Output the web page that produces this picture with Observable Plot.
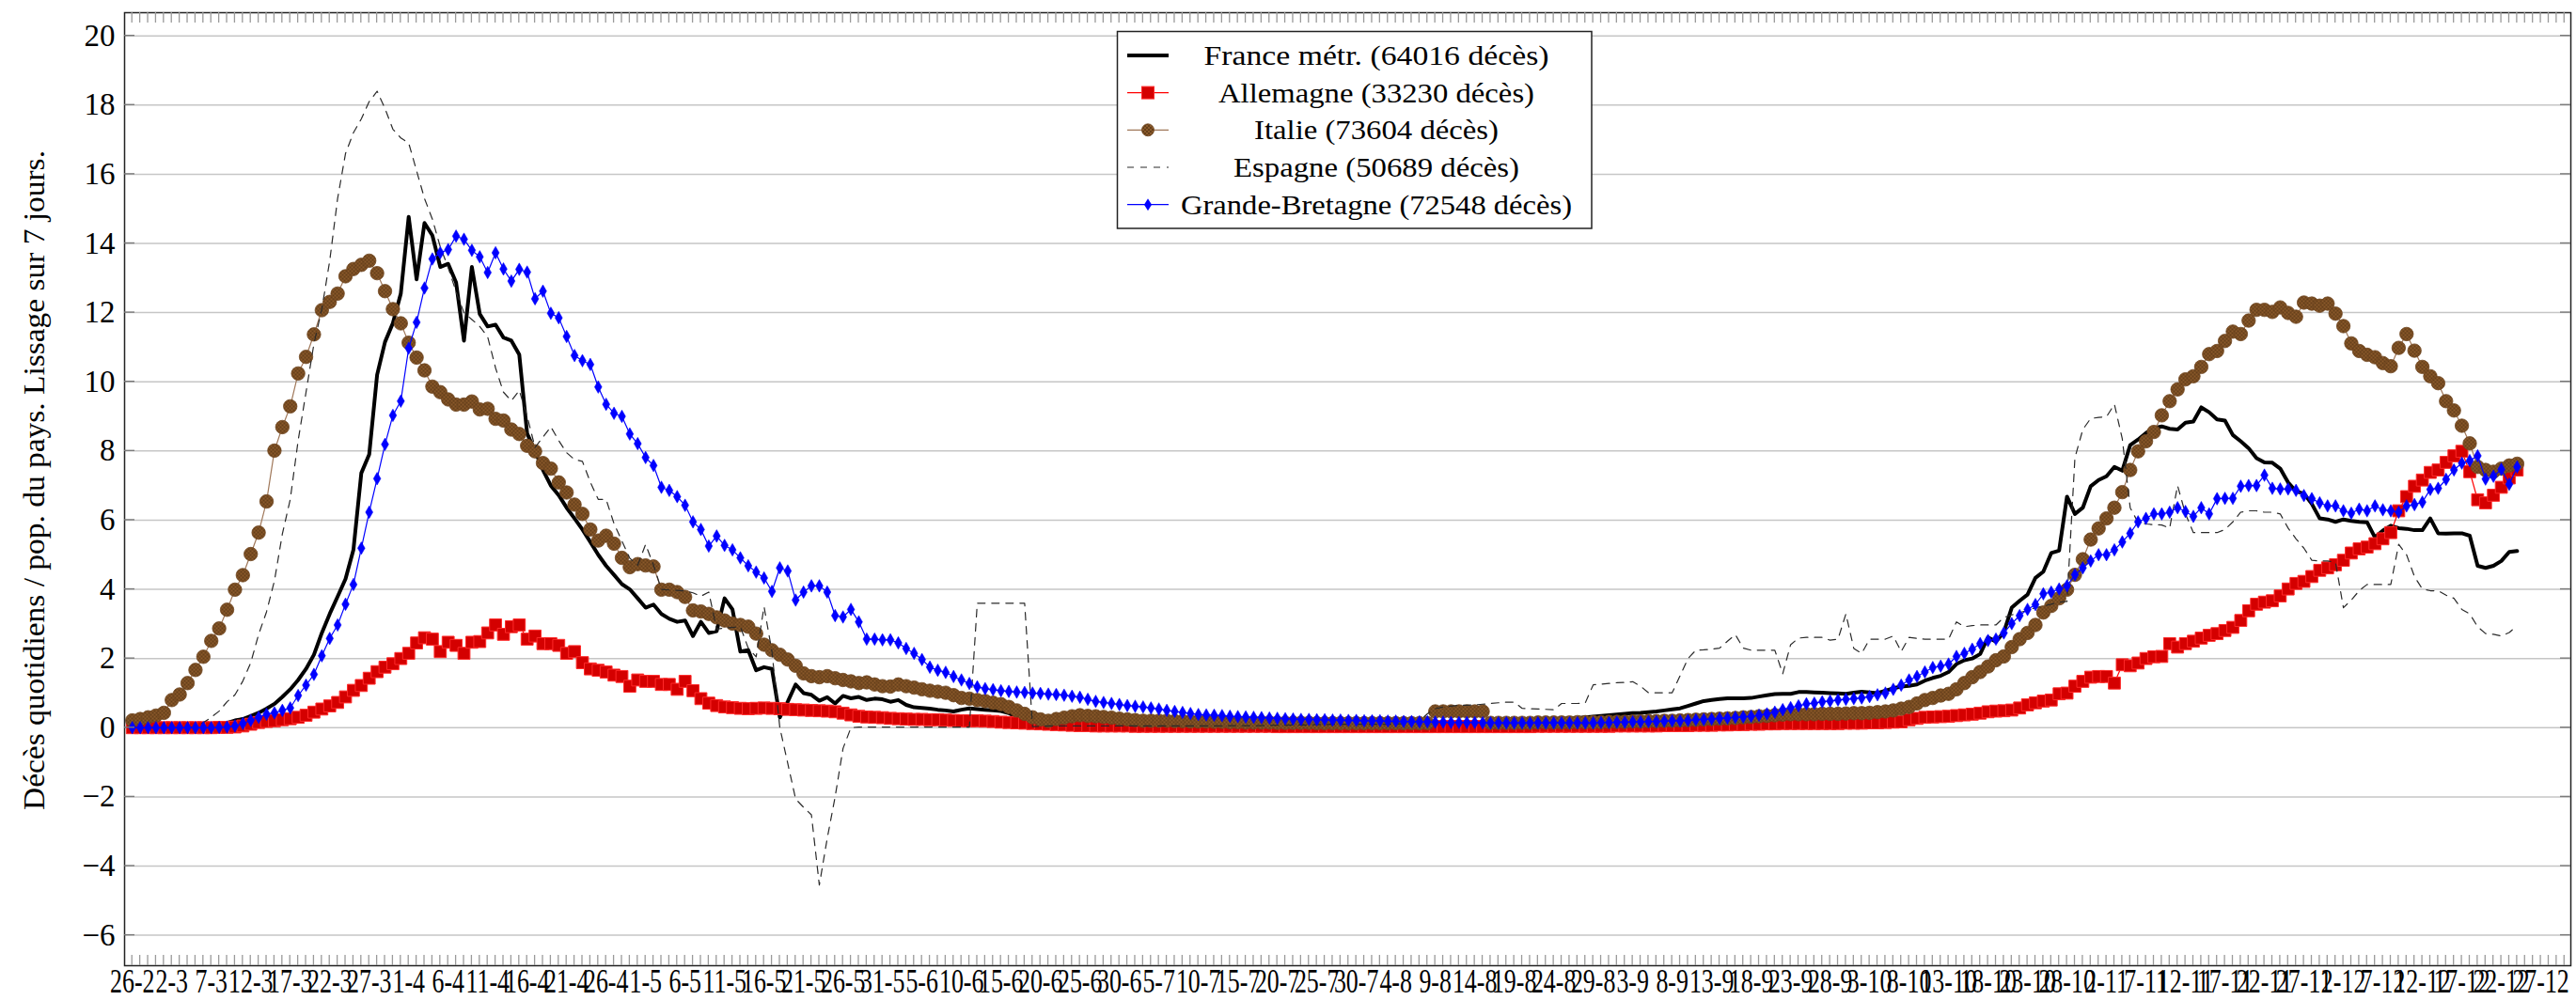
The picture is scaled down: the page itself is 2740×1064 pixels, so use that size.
<!DOCTYPE html>
<html>
<head>
<meta charset="utf-8">
<script src="https://cdn.jsdelivr.net/npm/d3@7"></script>
<script src="https://cdn.jsdelivr.net/npm/@observablehq/plot@0.6"></script>
<style>
html, body { margin: 0; padding: 0; background: #fff; overflow: hidden; }
#chart { position: relative; width: 2740px; height: 1064px; }
</style>
</head>
<body>
<div id="chart"></div>
<script>
// ---- DATA (one value per day, from 26-2-2020) ----
const seriesNames = ["France métr.", "Allemagne", "Italie", "Espagne", "Grande-Bretagne"];
const deathTotals = [64016, 33230, 73604, 50689, 72548];

const france = [
0,0,0,0.01,0.01,0.01,0.02,0.02,0.03,0.05,
0.07,0.09,0.14,0.21,0.25,0.34,0.43,0.55,0.69,0.89,
1.11,1.38,1.7,2.11,2.74,3.29,3.79,4.3,5.14,7.36,
7.9,10.2,11.15,11.7,12.55,14.77,12.96,14.59,14.23,13.32,
13.41,12.87,11.19,13.32,11.96,11.6,11.65,11.28,11.19,10.79,
8.5,8.0,7.45,7.0,6.72,6.36,6.05,5.73,5.37,5.0,
4.68,4.42,4.15,4.0,3.74,3.47,3.56,3.29,3.15,3.06,
3.1,2.65,3.06,2.74,2.79,3.74,3.42,2.2,2.24,1.66,
1.75,1.7,0.3,0.75,1.25,1.0,0.95,0.78,0.88,0.7,
0.92,0.85,0.89,0.8,0.84,0.82,0.75,0.8,0.66,0.59,
0.57,0.55,0.52,0.5,0.47,0.52,0.56,0.54,0.52,0.5,
0.48,0.42,0.3,0.2,0.15,0.13,0.12,0.12,0.12,0.12,
0.12,0.11,0.11,0.12,0.11,0.1,0.1,0.11,0.1,0.1,
0.1,0.1,0.1,0.11,0.1,0.1,0.1,0.1,0.11,0.1,
0.1,0.1,0.11,0.11,0.1,0.1,0.1,0.11,0.11,0.1,
0.11,0.11,0.12,0.11,0.11,0.12,0.12,0.12,0.12,0.13,
0.13,0.13,0.13,0.14,0.14,0.14,0.14,0.14,0.15,0.15,
0.15,0.15,0.15,0.15,0.15,0.15,0.15,0.17,0.19,0.21,
0.23,0.25,0.27,0.28,0.3,0.32,0.34,0.36,0.38,0.4,
0.42,0.43,0.45,0.47,0.5,0.53,0.56,0.63,0.7,0.77,
0.8,0.83,0.85,0.85,0.85,0.86,0.9,0.94,0.97,0.98,
0.98,1.03,1.03,1.02,1.01,1.0,0.99,0.98,1.01,1.04,
1.02,1.0,1.07,1.14,1.19,1.21,1.25,1.36,1.44,1.5,
1.61,1.84,1.95,2.0,2.13,2.61,2.49,2.76,3.47,3.67,
3.85,4.33,4.51,5.05,5.12,6.68,6.18,6.36,6.98,7.16,
7.27,7.54,7.43,8.17,8.33,8.52,8.66,8.71,8.64,8.62,
8.82,8.85,9.26,9.12,8.91,8.88,8.46,8.28,8.08,7.79,
7.67,7.66,7.49,7.09,6.83,6.77,6.47,6.05,6.02,5.95,
6.02,5.98,5.95,5.94,5.5,5.7,5.84,5.77,5.75,5.71,
5.71,6.05,5.62,5.61,5.62,5.62,5.55,4.68,4.62,4.68,
4.82,5.08,5.11];

const germany = [
0,0,0,0,0,0,0,0,0,0,
0,0.01,0.01,0.02,0.05,0.1,0.15,0.18,0.2,0.23,
0.26,0.3,0.36,0.45,0.54,0.63,0.73,0.89,1.08,1.22,
1.43,1.62,1.75,1.85,2.0,2.15,2.45,2.6,2.56,2.2,
2.47,2.38,2.15,2.47,2.49,2.74,2.97,2.7,2.92,2.97,
2.56,2.65,2.43,2.43,2.38,2.15,2.2,1.88,1.7,1.66,
1.61,1.52,1.48,1.2,1.38,1.34,1.34,1.25,1.25,1.11,
1.34,1.07,0.84,0.71,0.64,0.6,0.58,0.56,0.55,0.56,
0.57,0.56,0.55,0.53,0.52,0.51,0.5,0.49,0.48,0.46,
0.42,0.37,0.33,0.31,0.3,0.29,0.27,0.26,0.25,0.24,
0.24,0.23,0.23,0.22,0.21,0.2,0.2,0.2,0.19,0.18,
0.16,0.15,0.14,0.13,0.12,0.11,0.1,0.09,0.08,0.07,
0.06,0.06,0.05,0.05,0.05,0.05,0.05,0.04,0.04,0.04,
0.04,0.04,0.04,0.04,0.04,0.04,0.04,0.04,0.04,0.04,
0.04,0.04,0.04,0.04,0.04,0.03,0.03,0.03,0.03,0.03,
0.03,0.03,0.03,0.03,0.03,0.03,0.03,0.03,0.03,0.03,
0.03,0.03,0.03,0.03,0.03,0.03,0.03,0.03,0.03,0.03,
0.03,0.03,0.03,0.03,0.03,0.03,0.03,0.03,0.04,0.04,
0.04,0.04,0.04,0.04,0.04,0.04,0.04,0.04,0.05,0.05,
0.05,0.05,0.05,0.05,0.06,0.06,0.06,0.06,0.07,0.07,
0.07,0.08,0.08,0.09,0.09,0.1,0.1,0.11,0.11,0.12,
0.12,0.12,0.12,0.12,0.12,0.12,0.12,0.13,0.13,0.13,
0.14,0.14,0.15,0.16,0.17,0.23,0.27,0.3,0.31,0.32,
0.33,0.35,0.37,0.39,0.42,0.46,0.48,0.49,0.51,0.57,
0.66,0.72,0.77,0.8,0.98,1.0,1.2,1.34,1.46,1.48,
1.48,1.29,1.82,1.79,1.87,2.0,2.05,2.06,2.43,2.33,
2.43,2.5,2.59,2.67,2.72,2.81,2.9,3.1,3.38,3.57,
3.63,3.67,3.81,4.01,4.17,4.23,4.37,4.55,4.62,4.71,
4.84,5.05,5.17,5.22,5.32,5.46,5.64,6.27,6.68,6.98,
7.16,7.38,7.45,7.67,7.86,7.99,7.4,6.59,6.5,6.72,
6.95,7.22,7.45];

const italy = [
0.21,0.25,0.3,0.35,0.43,0.8,0.96,1.29,1.67,2.05,
2.51,2.87,3.41,3.99,4.41,5.02,5.64,6.54,8.01,8.69,
9.29,10.24,10.72,11.37,12.07,12.31,12.55,13.05,13.26,13.38,
13.5,13.14,12.62,12.1,11.69,11.13,10.7,10.33,9.86,9.7,
9.49,9.34,9.34,9.43,9.2,9.22,8.93,8.88,8.62,8.49,
8.15,7.99,7.65,7.49,7.09,6.8,6.45,6.18,5.73,5.41,
5.55,5.32,4.91,4.64,4.73,4.69,4.66,3.99,3.99,3.92,
3.78,3.39,3.36,3.29,3.19,3.1,3.01,2.97,2.92,2.72,
2.4,2.24,2.11,1.97,1.79,1.57,1.49,1.46,1.49,1.43,
1.38,1.34,1.29,1.31,1.25,1.2,1.19,1.25,1.2,1.16,
1.11,1.07,1.04,1.01,0.94,0.86,0.84,0.8,0.77,0.72,
0.68,0.6,0.5,0.4,0.3,0.24,0.2,0.25,0.29,0.33,
0.36,0.34,0.33,0.31,0.29,0.26,0.24,0.22,0.2,0.2,
0.2,0.2,0.19,0.19,0.18,0.18,0.18,0.17,0.17,0.16,
0.16,0.15,0.15,0.15,0.15,0.14,0.14,0.14,0.14,0.14,
0.13,0.13,0.13,0.13,0.13,0.13,0.13,0.13,0.13,0.13,
0.13,0.13,0.13,0.13,0.13,0.47,0.47,0.47,0.47,0.47,
0.47,0.47,0.14,0.14,0.14,0.14,0.14,0.14,0.15,0.15,
0.15,0.15,0.15,0.16,0.16,0.16,0.16,0.17,0.17,0.17,
0.18,0.18,0.19,0.19,0.2,0.2,0.21,0.22,0.23,0.24,
0.25,0.26,0.27,0.28,0.3,0.31,0.33,0.34,0.36,0.38,
0.39,0.39,0.39,0.39,0.4,0.4,0.4,0.41,0.42,0.42,
0.43,0.45,0.47,0.5,0.55,0.6,0.7,0.8,0.86,0.93,
0.98,1.11,1.29,1.46,1.61,1.77,1.95,2.06,2.33,2.56,
2.74,2.97,3.33,3.52,3.74,3.99,4.42,4.87,5.44,5.76,
6.05,6.36,6.81,7.45,7.99,8.28,8.55,9.03,9.44,9.78,
10.07,10.16,10.43,10.8,10.89,11.18,11.45,11.38,11.77,12.08,
12.08,12.02,12.15,11.99,11.88,12.29,12.26,12.2,12.26,11.97,
11.61,11.11,10.89,10.78,10.71,10.54,10.45,10.98,11.38,10.9,
10.43,10.16,9.96,9.44,9.17,8.73,8.22,7.54,7.45,7.4,
7.49,7.58,7.63];

const spain = [
0,0,0,0,0,0,0,0,0.02,0.15,
0.3,0.48,0.75,0.95,1.35,1.88,2.7,3.35,4.25,5.6,
6.6,8.3,9.7,11.1,12.1,13.5,15.3,16.6,17.2,17.6,
18.1,18.4,17.9,17.3,17.05,16.9,16.1,15.3,14.7,13.9,
13.3,12.6,12.0,11.8,11.6,11.3,10.4,9.7,9.45,9.75,
9.0,8.1,8.4,8.7,8.3,7.95,7.75,7.7,7.1,6.6,
6.6,5.9,5.4,4.9,4.7,5.3,4.7,4.0,3.98,3.97,
3.95,3.9,3.8,3.92,2.85,2.88,2.9,2.92,2.3,2.05,
3.5,2.2,0.0,-1.03,-2.06,-2.3,-2.52,-4.55,-3.2,-2.0,
-0.6,0.0,0.02,0.02,0.02,0.02,0.02,0.02,0.02,0.02,
0.02,0.02,0.02,0.02,0.02,0.02,0.02,3.6,3.6,3.6,
3.6,3.6,3.6,3.6,0.03,0.04,0.05,0.05,0.05,0.05,
0.05,0.05,0.05,0.05,0.05,0.05,0.05,0.05,0.05,0.05,
0.05,0.05,0.05,0.05,0.05,0.05,0.05,0.05,0.05,0.06,
0.06,0.06,0.06,0.06,0.07,0.07,0.07,0.08,0.08,0.08,
0.09,0.09,0.1,0.1,0.1,0.1,0.1,0.1,0.1,0.1,
0.1,0.12,0.15,0.2,0.4,0.55,0.6,0.62,0.65,0.65,
0.66,0.68,0.7,0.72,0.74,0.74,0.56,0.55,0.54,0.53,
0.52,0.7,0.7,0.7,0.72,1.24,1.26,1.28,1.3,1.31,
1.33,1.2,1.01,1.01,1.01,1.01,1.5,2.0,2.24,2.25,
2.27,2.3,2.5,2.69,2.3,2.24,2.24,2.24,2.24,1.56,
2.4,2.59,2.61,2.61,2.61,2.53,2.56,3.29,2.29,2.15,
2.56,2.56,2.56,2.65,2.2,2.61,2.58,2.56,2.56,2.56,
2.56,3.06,2.92,2.95,2.97,2.97,2.97,3.19,3.26,3.33,
3.39,3.47,3.51,3.57,3.63,3.65,7.8,8.62,8.94,8.97,
8.99,9.35,8.35,6.36,5.93,5.89,5.87,5.86,5.77,7.0,
6.18,5.64,5.64,5.64,5.64,5.73,5.95,6.23,6.27,6.27,
6.23,6.23,6.18,5.77,5.46,5.19,4.84,4.82,4.82,4.78,
3.47,3.69,3.96,4.14,4.14,4.14,4.14,5.3,5.0,4.37,
4.01,3.96,3.96,3.83,3.74,3.42,3.29,2.92,2.72,2.7,
2.65,2.75,2.95];

const uk = [
0,0,0,0,0,0,0,0,0,0,
0,0.01,0.02,0.05,0.12,0.21,0.3,0.39,0.43,0.5,
0.57,0.93,1.23,1.54,2.08,2.58,2.97,3.57,4.14,5.19,
6.23,7.2,8.19,9.03,9.44,10.97,11.72,12.71,13.55,13.73,
13.82,14.21,14.12,13.8,13.61,13.16,13.73,13.26,12.91,13.25,
13.17,12.4,12.62,11.98,11.85,11.31,10.76,10.61,10.5,9.85,
9.35,9.09,9.0,8.49,8.21,7.81,7.58,6.95,6.86,6.68,
6.43,5.95,5.73,5.25,5.54,5.27,5.14,4.91,4.68,4.5,
4.33,3.94,4.62,4.53,3.69,3.92,4.1,4.1,3.92,3.24,
3.2,3.42,3.06,2.56,2.56,2.54,2.54,2.45,2.29,2.15,
1.97,1.75,1.66,1.6,1.48,1.38,1.28,1.18,1.13,1.1,
1.07,1.05,1.03,1.02,1.0,0.99,0.97,0.96,0.94,0.91,
0.88,0.82,0.76,0.73,0.7,0.67,0.64,0.62,0.6,0.57,
0.54,0.5,0.47,0.44,0.41,0.38,0.37,0.36,0.35,0.33,
0.32,0.31,0.3,0.29,0.28,0.27,0.26,0.25,0.24,0.24,
0.23,0.23,0.22,0.22,0.21,0.21,0.2,0.2,0.2,0.19,
0.19,0.18,0.18,0.17,0.17,0.16,0.16,0.15,0.15,0.15,
0.15,0.14,0.14,0.14,0.14,0.14,0.14,0.14,0.14,0.14,
0.14,0.14,0.14,0.14,0.14,0.14,0.15,0.15,0.16,0.16,
0.17,0.17,0.18,0.18,0.19,0.2,0.2,0.21,0.23,0.24,
0.25,0.27,0.28,0.3,0.31,0.33,0.36,0.4,0.45,0.52,
0.58,0.63,0.69,0.71,0.75,0.77,0.8,0.82,0.84,0.86,
0.9,0.95,1.0,1.11,1.23,1.38,1.48,1.61,1.74,1.78,
1.84,2.06,2.15,2.27,2.43,2.52,2.56,2.74,3.01,3.24,
3.42,3.56,3.87,3.92,4.01,4.1,4.42,4.62,4.82,5.0,
5.0,5.14,5.37,5.62,5.95,6.05,6.18,6.18,6.23,6.36,
6.25,6.11,6.36,6.18,6.62,6.63,6.63,6.98,7.0,7.0,
7.3,6.92,6.9,6.9,6.86,6.71,6.62,6.5,6.41,6.41,
6.27,6.2,6.32,6.27,6.41,6.3,6.27,6.23,6.41,6.45,
6.52,6.89,6.92,7.18,7.45,7.65,7.72,7.86,7.19,7.27,
7.47,7.04,7.54];

const xTickLabels = ["26-2","2-3","7-3","12-3","17-3","22-3","27-3","1-4","6-4","11-4","16-4","21-4","26-4",
"1-5","6-5","11-5","16-5","21-5","26-5","31-5","5-6","10-6","15-6","20-6","25-6","30-6","5-7","10-7",
"15-7","20-7","25-7","30-7","4-8","9-8","14-8","19-8","24-8","29-8","3-9","8-9","13-9","18-9","23-9",
"28-9","3-10","8-10","13-10","18-10","23-10","28-10","2-11","7-11","12-11","17-11","22-11","27-11",
"2-12","7-12","12-12","17-12","22-12","27-12"];
const yTicks = [-6,-4,-2,0,2,4,6,8,10,12,14,16,18,20];
const yTitle = "Décès quotidiens / pop. du pays. Lissage sur 7 jours.";

// ---- BUILD ----
const tickStep = 5;
const xTickDays = xTickLabels.map((_, i) => i * tickStep);
const labelOf = new Map(xTickDays.map((d, i) => [d, xTickLabels[i]]));
const minorDays = d3.range(0, 309);
const toRows = arr => arr.map((v, day) => ({day, v}));
const FR = toRows(france), DE = toRows(germany), IT = toRows(italy), ES = toRows(spain), UK = toRows(uk);
const fmtY = d => d < 0 ? "\u2212" + (-d) : String(d);

const FONT = "'Liberation Serif', 'DejaVu Serif', serif";
const C = {
  fr: "#000000", deLine: "#ff0000", deFill: "#d40000", deStroke: "#ff2a2a",
  itLine: "#a0785a", itFill: "#8b5a2c", itStroke: "#6e4520",
  es: "#2a2a2a", uk: "#0000ff"
};

const plot = Plot.plot({
  width: 2740, height: 1064,
  marginLeft: 132, marginRight: 6, marginTop: 13, marginBottom: 37,
  style: {fontFamily: FONT, fontSize: "33px", background: "#fff", color: "#000"},
  x: {type: "linear", domain: [-0.98, 308.8]},
  y: {type: "linear", domain: [-6.88, 20.67]},
  marks: [
    Plot.gridY(yTicks, {stroke: "#c6c6c6", strokeOpacity: 1, strokeWidth: 1.5}),
    Plot.axisY(yTicks, {anchor: "left", tickSize: 0, tickPadding: 10, fontSize: 33, tickFormat: fmtY, label: null}),
    Plot.axisX(xTickDays, {anchor: "bottom", tickSize: 0, tickPadding: 3.5, fontSize: 35, tickFormat: d => labelOf.get(d), label: null}),
    Plot.line(FR, {x: "day", y: "v", stroke: C.fr, strokeWidth: 4}),
    Plot.line(DE, {x: "day", y: "v", stroke: C.deLine, strokeWidth: 1.2}),
    Plot.dot(DE, {x: "day", y: "v", symbol: "square", r: 7.2, fill: C.deFill, stroke: C.deStroke, strokeWidth: 1}),
    Plot.line(IT, {x: "day", y: "v", stroke: C.itLine, strokeWidth: 1.2}),
    Plot.dot(IT, {x: "day", y: "v", symbol: "circle", r: 7.2, fill: C.itFill, stroke: C.itStroke, strokeWidth: 0.8}),
    Plot.line(ES, {x: "day", y: "v", stroke: C.es, strokeWidth: 1.2, strokeDasharray: "8,7"}),
    Plot.line(UK, {x: "day", y: "v", stroke: C.uk, strokeWidth: 1.2}),
    Plot.dot(UK, {x: "day", y: "v", symbol: "diamond", r: 4.1, fill: C.uk, stroke: C.uk, strokeWidth: 0.5}),
    Plot.frame({stroke: "#222", strokeWidth: 1.5})
  ]
});
document.getElementById("chart").appendChild(plot);

// ---- POST: hatch pattern, ticks, condensed labels, title, legend ----
const svg = d3.select(plot);
const defs = svg.insert("defs", ":first-child");
const pat = defs.append("pattern").attr("id", "xhatch").attr("patternUnits", "userSpaceOnUse")
  .attr("width", 4).attr("height", 4);
pat.append("rect").attr("width", 4).attr("height", 4).attr("fill", "#8b5a2b");
pat.append("path").attr("d", "M0,0L4,4M4,0L0,4").attr("stroke", "#5a3815").attr("stroke-width", 0.8);
svg.selectAll('g[fill="' + C.itFill + '"]').attr("fill", "url(#xhatch)");

const xs = plot.scale("x"), ys = plot.scale("y");
const [yBot, yTop] = [ys.apply(-6.88), ys.apply(20.67)];
const [xL, xR] = [xs.apply(-0.98), xs.apply(308.8)];
const deco = svg.append("g").attr("stroke", "#9a9a9a").attr("stroke-width", 1.3);
minorDays.forEach(d => {
  const x = xs.apply(d);
  deco.append("line").attr("x1", x).attr("x2", x).attr("y1", yBot).attr("y2", yBot - 11);
  deco.append("line").attr("x1", x).attr("x2", x).attr("y1", yTop).attr("y2", yTop + 11);
});
const deco2 = svg.append("g").attr("stroke", "#7a7a7a").attr("stroke-width", 1.4);
yTicks.forEach(v => {
  const y = ys.apply(v);
  deco2.append("line").attr("x1", xL).attr("x2", xL + 11).attr("y1", y).attr("y2", y);
  deco2.append("line").attr("x1", xR - 11).attr("x2", xR).attr("y1", y).attr("y2", y);
});

function axisTexts(prefix) {
  return svg.selectAll("g").filter(function () {
    const a = this.getAttribute("aria-label") || ""; return a.indexOf(prefix) === 0;
  }).selectAll("text");
}
axisTexts("y-axis").each(function () {
  this.setAttribute("font-size", "33");
  this.style.fontSize = "33px";
  this.style.fontFamily = FONT;
});
axisTexts("x-axis").each(function () {
  this.setAttribute("font-size", "35");
  this.style.fontSize = "35px";
  this.style.fontFamily = FONT;
  const L = this.getComputedTextLength();
  this.setAttribute("textLength", (L * 0.74).toFixed(1));
  this.setAttribute("lengthAdjust", "spacingAndGlyphs");
});

// y title
svg.append("text").attr("transform", "translate(47,511) rotate(-90)")
  .attr("text-anchor", "middle").style("font-family", FONT).style("font-size", "31px")
  .attr("textLength", 702).attr("lengthAdjust", "spacingAndGlyphs").attr("fill", "#000")
  .text(yTitle);

// legend
const lg = svg.append("g");
lg.append("rect").attr("x", 1188.5).attr("y", 33.5).attr("width", 504.5).attr("height", 209.5)
  .attr("fill", "#fff").attr("stroke", "#222").attr("stroke-width", 1.5);
const legendWidths = [367, 336, 260, 304, 416];
const sx1 = 1199, sx2 = 1243, sxm = 1221;
seriesNames.forEach((n, i) => {
  const y = 58.9 + i * 39.7;
  const g = lg.append("g");
  if (i === 0) g.append("line").attr("x1", sx1).attr("x2", sx2).attr("y1", y).attr("y2", y).attr("stroke", C.fr).attr("stroke-width", 4);
  if (i === 1) {
    g.append("line").attr("x1", sx1).attr("x2", sx2).attr("y1", y).attr("y2", y).attr("stroke", C.deLine).attr("stroke-width", 1.2);
    g.append("rect").attr("x", sxm - 6.5).attr("y", y - 6.5).attr("width", 13).attr("height", 13).attr("fill", C.deFill).attr("stroke", C.deStroke);
  }
  if (i === 2) {
    g.append("line").attr("x1", sx1).attr("x2", sx2).attr("y1", y).attr("y2", y).attr("stroke", C.itLine).attr("stroke-width", 1.2);
    g.append("circle").attr("cx", sxm).attr("cy", y).attr("r", 6.5).attr("fill", "url(#xhatch)").attr("stroke", C.itStroke).attr("stroke-width", 0.8);
  }
  if (i === 3) g.append("line").attr("x1", sx1).attr("x2", sx2).attr("y1", y).attr("y2", y).attr("stroke", C.es).attr("stroke-width", 1.2).attr("stroke-dasharray", "7,7");
  if (i === 4) {
    g.append("line").attr("x1", sx1).attr("x2", sx2).attr("y1", y).attr("y2", y).attr("stroke", C.uk).attr("stroke-width", 1.2);
    g.append("path").attr("d", `M${sxm},${y - 6.5}L${sxm + 4},${y}L${sxm},${y + 6.5}L${sxm - 4},${y}Z`).attr("fill", C.uk);
  }
  lg.append("text").attr("x", 1464).attr("y", y + 10).attr("text-anchor", "middle").attr("fill", "#000")
    .style("font-family", FONT).style("font-size", "30px")
    .attr("textLength", legendWidths[i]).attr("lengthAdjust", "spacingAndGlyphs")
    .text(`${n} (${deathTotals[i]} décès)`);
});
</script>
</body>
</html>
